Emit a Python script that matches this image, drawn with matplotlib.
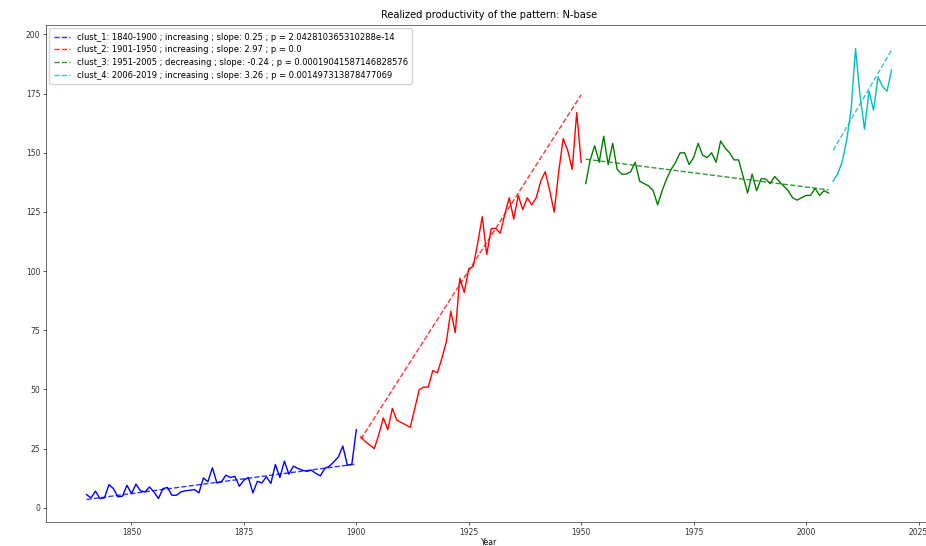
import numpy as np
import matplotlib
matplotlib.use("Agg")
import matplotlib.pyplot as plt

# ---- data ----
years_1 = list(range(1840, 1901))
vals_1 = [5.6, 4.2, 7.0, 3.9, 4.2, 9.8, 8.1, 4.6, 4.9, 9.5,
          6.0, 10.0, 7.2, 6.7, 8.8, 6.7, 3.9, 8.1, 8.6, 5.3,
          5.3, 6.7, 7.2, 7.4, 7.7, 6.3, 12.6, 11.0, 16.9, 10.5,
          11.0, 13.8, 12.8, 13.3, 9.1, 11.7, 12.8, 6.3, 11.2, 10.5,
          13.1, 10.3, 18.3, 12.8, 19.7, 14.2, 17.6, 16.6, 15.9, 15.4,
          15.9, 14.5, 13.5, 16.6, 17.6, 19.4, 21.5, 26.1, 18.0, 18.4,
          33.0]

years_2 = list(range(1901, 1951))
vals_2 = [30, 28, 26.5, 25, 31, 38, 33, 42, 37, 36,
          35, 34, 42, 50, 51, 51, 58, 57, 63, 70,
          83, 74, 97, 91, 101, 102, 112, 123, 107, 118,
          118, 116, 124, 131, 122, 132, 126, 131, 128, 131,
          138, 142, 134, 125, 142, 156, 151, 143, 167, 146]

years_3 = list(range(1951, 2006))
vals_3 = [137, 147, 153, 146, 157, 145, 154, 143, 141, 141,
          142, 146, 138, 137, 136, 134, 128, 134, 139, 143,
          146, 150, 150, 145, 148, 154, 149, 148, 150, 146,
          155, 152, 150, 147, 147, 140, 133, 141, 134, 139,
          139, 137, 140, 138, 136, 134, 131, 130, 131, 132,
          132, 135, 132, 134, 133]

years_4 = list(range(2006, 2020))
vals_4 = [138, 141, 146, 155, 168, 194, 174, 160, 176, 168,
          182, 178, 176, 185]

# trend: value at first year and slope
trend_start = [3.5, 29.0, 147.3, 151.0]
trend_slope = [0.25, 2.97, -0.24, 3.26]

labels = [
    "clust_1: 1840-1900 ; increasing ; slope: 0.25 ; p = 2.042810365310288e-14",
    "clust_2: 1901-1950 ; increasing ; slope: 2.97 ; p = 0.0",
    "clust_3: 1951-2005 ; decreasing ; slope: -0.24 ; p = 0.00019041587146828576",
    "clust_4: 2006-2019 ; increasing ; slope: 3.26 ; p = 0.001497313878477069",
]
colors = ["b", "r", "g", "c"]

fig = plt.figure(figsize=(9.26, 5.46), dpi=100)
ax = fig.add_axes([46 / 926, 24 / 546, 886 / 926, 497 / 546])

series = [(years_1, vals_1), (years_2, vals_2), (years_3, vals_3), (years_4, vals_4)]
for (yrs, vals), c, s0, sl, lab in zip(series, colors, trend_start, trend_slope, labels):
    yrs = np.array(yrs)
    ax.plot(yrs, vals, color=c, lw=1.0)
    ax.plot(yrs, s0 + sl * (yrs - yrs[0]), color=c, ls="--", lw=1.0, alpha=0.8, label=lab)

ax.set_xlim(1831, 2028)
ax.set_ylim(-6, 204)
ax.set_xticks([1850, 1875, 1900, 1925, 1950, 1975, 2000, 2025])
ax.set_yticks([0, 25, 50, 75, 100, 125, 150, 175, 200])
ax.tick_params(labelsize=5.5, length=2, width=0.6, pad=2, colors="#333333")
for sp in ax.spines.values():
    sp.set_linewidth(0.6)
    sp.set_color("#555555")
ax.spines["right"].set_visible(False)
ax.set_title("Realized productivity of the pattern: N-base", fontsize=7.1, pad=5)
ax.set_xlabel("Year", fontsize=5.5, labelpad=1)
ax.legend(loc="upper left", fontsize=6.0, frameon=True, handlelength=2.0,
          borderpad=0.5, labelspacing=0.45, borderaxespad=0.4)

fig.savefig("out.png", dpi=100)
